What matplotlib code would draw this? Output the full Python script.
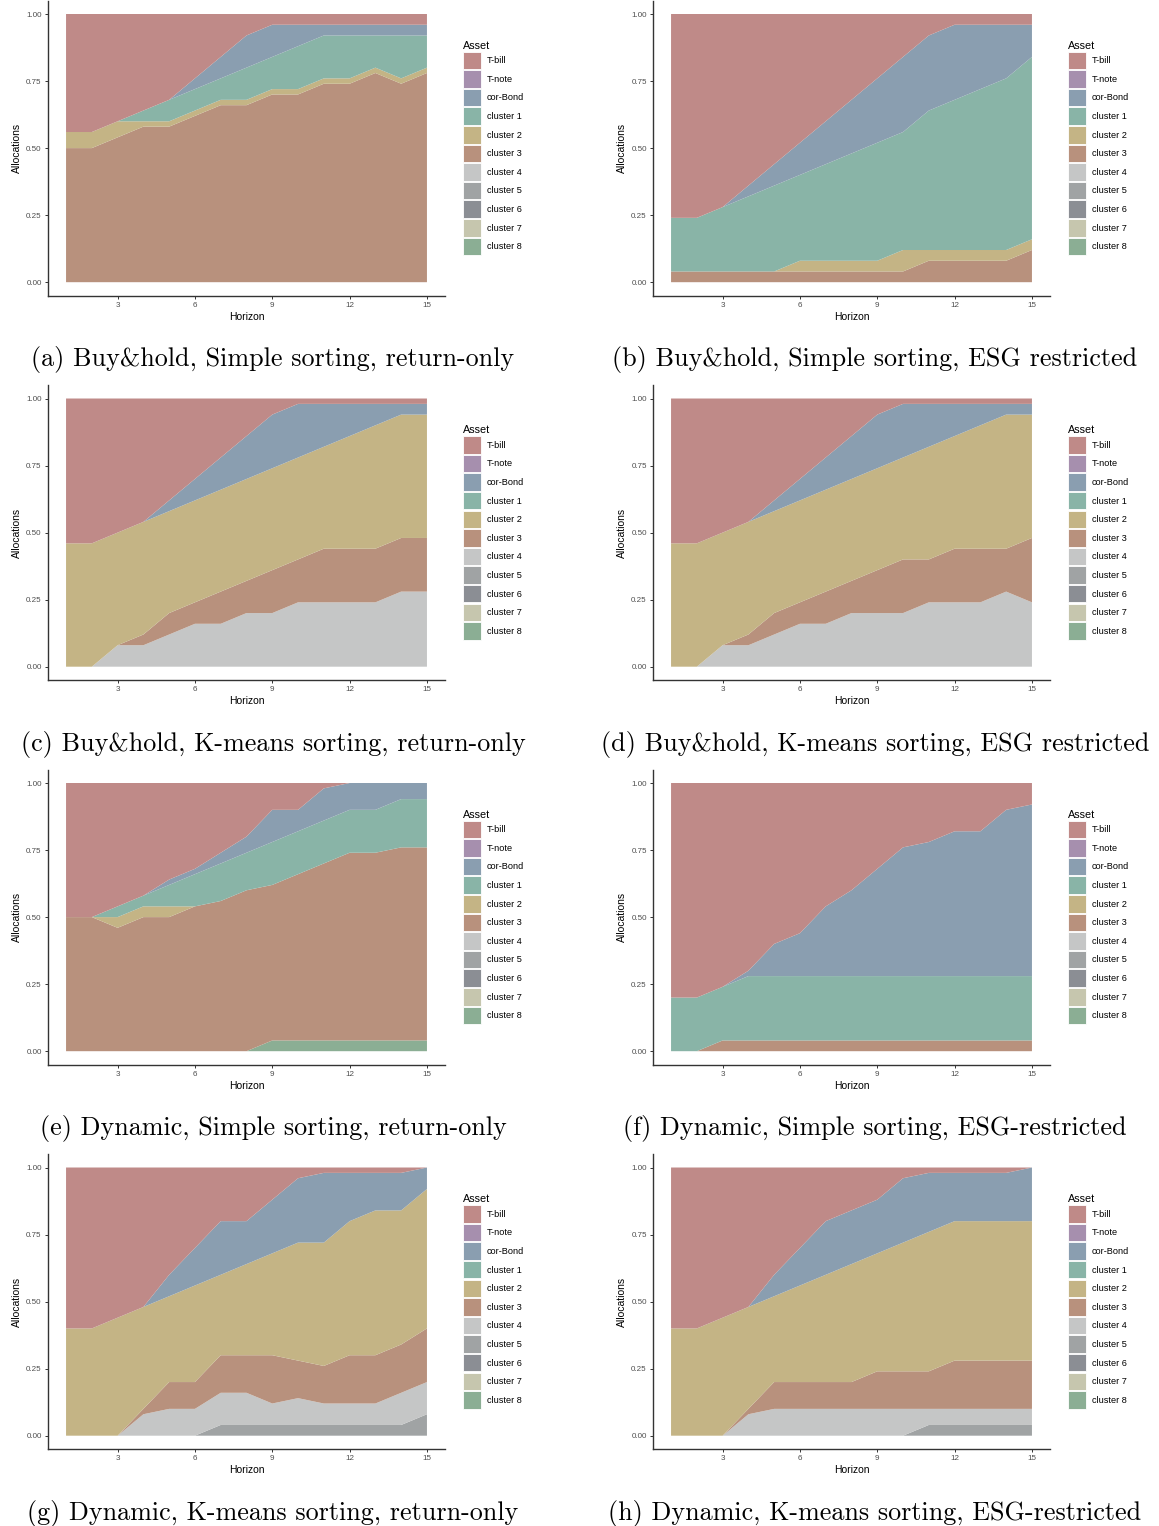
import matplotlib
matplotlib.use('Agg')
import matplotlib.pyplot as plt
from matplotlib.patches import Patch
import numpy as np

plt.rcParams['font.family'] = ['Liberation Sans', 'DejaVu Sans']

# horizon grid and assets (legend order, top of the stack first)
horizon = list(range(1, 16))
assets = ['T-bill', 'T-note', 'cor-Bond', 'cluster 1', 'cluster 2', 'cluster 3',
          'cluster 4', 'cluster 5', 'cluster 6', 'cluster 7', 'cluster 8']
asset_colors = ['#bf8a88', '#a68fae', '#8a9eb0', '#89b4a7', '#c4b485', '#b8917d',
                '#c5c6c6', '#a0a3a4', '#8b8e94', '#c6c6ae', '#8bae94']

# allocations per asset (assets not listed are zero)
buyhold_simple_ret = {
    'T-bill':    [0.44, 0.44, 0.40, 0.36, 0.32, 0.24, 0.16, 0.08, 0.04, 0.04, 0.04, 0.04, 0.04, 0.04, 0.04],
    'cor-Bond':  [0, 0, 0, 0, 0, 0.04, 0.08, 0.12, 0.12, 0.08, 0.04, 0.04, 0.04, 0.04, 0.04],
    'cluster 1': [0, 0, 0, 0.04, 0.08, 0.08, 0.08, 0.12, 0.12, 0.16, 0.16, 0.16, 0.12, 0.16, 0.12],
    'cluster 2': [0.06, 0.06, 0.06, 0.02, 0.02, 0.02, 0.02, 0.02, 0.02, 0.02, 0.02, 0.02, 0.02, 0.02, 0.02],
    'cluster 3': [0.50, 0.50, 0.54, 0.58, 0.58, 0.62, 0.66, 0.66, 0.70, 0.70, 0.74, 0.74, 0.78, 0.74, 0.78],
}
buyhold_simple_esg = {
    'T-bill':    [0.76, 0.76, 0.72, 0.64, 0.56, 0.48, 0.40, 0.32, 0.24, 0.16, 0.08, 0.04, 0.04, 0.04, 0.04],
    'cor-Bond':  [0, 0, 0, 0.04, 0.08, 0.12, 0.16, 0.20, 0.24, 0.28, 0.28, 0.28, 0.24, 0.20, 0.12],
    'cluster 1': [0.20, 0.20, 0.24, 0.28, 0.32, 0.32, 0.36, 0.40, 0.44, 0.44, 0.52, 0.56, 0.60, 0.64, 0.68],
    'cluster 2': [0, 0, 0, 0, 0, 0.04, 0.04, 0.04, 0.04, 0.08, 0.04, 0.04, 0.04, 0.04, 0.04],
    'cluster 3': [0.04, 0.04, 0.04, 0.04, 0.04, 0.04, 0.04, 0.04, 0.04, 0.04, 0.08, 0.08, 0.08, 0.08, 0.12],
}
buyhold_kmeans_ret = {
    'T-bill':    [0.54, 0.54, 0.50, 0.46, 0.38, 0.30, 0.22, 0.14, 0.06, 0.02, 0.02, 0.02, 0.02, 0.02, 0.02],
    'cor-Bond':  [0, 0, 0, 0, 0.04, 0.08, 0.12, 0.16, 0.20, 0.20, 0.16, 0.12, 0.08, 0.04, 0.04],
    'cluster 2': [0.46, 0.46, 0.42, 0.42, 0.38, 0.38, 0.38, 0.38, 0.38, 0.38, 0.38, 0.42, 0.46, 0.46, 0.46],
    'cluster 3': [0, 0, 0, 0.04, 0.08, 0.08, 0.12, 0.12, 0.16, 0.16, 0.20, 0.20, 0.20, 0.20, 0.20],
    'cluster 4': [0, 0, 0.08, 0.08, 0.12, 0.16, 0.16, 0.20, 0.20, 0.24, 0.24, 0.24, 0.24, 0.28, 0.28],
}
buyhold_kmeans_esg = {
    'T-bill':    [0.54, 0.54, 0.50, 0.46, 0.38, 0.30, 0.22, 0.14, 0.06, 0.02, 0.02, 0.02, 0.02, 0.02, 0.02],
    'cor-Bond':  [0, 0, 0, 0, 0.04, 0.08, 0.12, 0.16, 0.20, 0.20, 0.16, 0.12, 0.08, 0.04, 0.04],
    'cluster 2': [0.46, 0.46, 0.42, 0.42, 0.38, 0.38, 0.38, 0.38, 0.38, 0.38, 0.42, 0.42, 0.46, 0.50, 0.46],
    'cluster 3': [0, 0, 0, 0.04, 0.08, 0.08, 0.12, 0.12, 0.16, 0.20, 0.16, 0.20, 0.20, 0.16, 0.24],
    'cluster 4': [0, 0, 0.08, 0.08, 0.12, 0.16, 0.16, 0.20, 0.20, 0.20, 0.24, 0.24, 0.24, 0.28, 0.24],
}
dynamic_simple_ret = {
    'T-bill':    [0.50, 0.50, 0.46, 0.42, 0.36, 0.32, 0.26, 0.20, 0.10, 0.10, 0.02, 0, 0, 0, 0],
    'cor-Bond':  [0, 0, 0, 0, 0.02, 0.02, 0.04, 0.06, 0.12, 0.08, 0.12, 0.10, 0.10, 0.06, 0.06],
    'cluster 1': [0, 0, 0.04, 0.04, 0.08, 0.12, 0.14, 0.14, 0.16, 0.16, 0.16, 0.16, 0.16, 0.18, 0.18],
    'cluster 2': [0, 0, 0.04, 0.04, 0.04, 0, 0, 0, 0, 0, 0, 0, 0, 0, 0],
    'cluster 3': [0.50, 0.50, 0.46, 0.50, 0.50, 0.54, 0.56, 0.60, 0.58, 0.62, 0.66, 0.70, 0.70, 0.72, 0.72],
    'cluster 8': [0, 0, 0, 0, 0, 0, 0, 0, 0.04, 0.04, 0.04, 0.04, 0.04, 0.04, 0.04],
}
dynamic_simple_esg = {
    'T-bill':    [0.80, 0.80, 0.76, 0.70, 0.60, 0.56, 0.46, 0.40, 0.32, 0.24, 0.22, 0.18, 0.18, 0.10, 0.08],
    'cor-Bond':  [0, 0, 0, 0.02, 0.12, 0.16, 0.26, 0.32, 0.40, 0.48, 0.50, 0.54, 0.54, 0.62, 0.64],
    'cluster 1': [0.20, 0.20, 0.20, 0.24, 0.24, 0.24, 0.24, 0.24, 0.24, 0.24, 0.24, 0.24, 0.24, 0.24, 0.24],
    'cluster 3': [0, 0, 0.04, 0.04, 0.04, 0.04, 0.04, 0.04, 0.04, 0.04, 0.04, 0.04, 0.04, 0.04, 0.04],
}
dynamic_kmeans_ret = {
    'T-bill':    [0.60, 0.60, 0.56, 0.52, 0.40, 0.30, 0.20, 0.20, 0.12, 0.04, 0.02, 0.02, 0.02, 0.02, 0],
    'cor-Bond':  [0, 0, 0, 0, 0.08, 0.14, 0.20, 0.16, 0.20, 0.24, 0.26, 0.18, 0.14, 0.14, 0.08],
    'cluster 2': [0.40, 0.40, 0.44, 0.38, 0.32, 0.36, 0.30, 0.34, 0.38, 0.44, 0.46, 0.50, 0.54, 0.50, 0.52],
    'cluster 3': [0, 0, 0, 0.02, 0.10, 0.10, 0.14, 0.14, 0.18, 0.14, 0.14, 0.18, 0.18, 0.18, 0.20],
    'cluster 4': [0, 0, 0, 0.08, 0.10, 0.10, 0.12, 0.12, 0.08, 0.10, 0.08, 0.08, 0.08, 0.12, 0.12],
    'cluster 5': [0, 0, 0, 0, 0, 0, 0.04, 0.04, 0.04, 0.04, 0.04, 0.04, 0.04, 0.04, 0.08],
}
dynamic_kmeans_esg = {
    'T-bill':    [0.60, 0.60, 0.56, 0.52, 0.40, 0.30, 0.20, 0.16, 0.12, 0.04, 0.02, 0.02, 0.02, 0.02, 0],
    'cor-Bond':  [0, 0, 0, 0, 0.08, 0.14, 0.20, 0.20, 0.20, 0.24, 0.22, 0.18, 0.18, 0.18, 0.20],
    'cluster 2': [0.40, 0.40, 0.44, 0.38, 0.32, 0.36, 0.40, 0.44, 0.44, 0.48, 0.52, 0.52, 0.52, 0.52, 0.52],
    'cluster 3': [0, 0, 0, 0.02, 0.10, 0.10, 0.10, 0.10, 0.14, 0.14, 0.14, 0.18, 0.18, 0.18, 0.18],
    'cluster 4': [0, 0, 0, 0.08, 0.10, 0.10, 0.10, 0.10, 0.10, 0.10, 0.06, 0.06, 0.06, 0.06, 0.06],
    'cluster 5': [0, 0, 0, 0, 0, 0, 0, 0, 0, 0, 0.04, 0.04, 0.04, 0.04, 0.04],
}

panels = [buyhold_simple_ret, buyhold_simple_esg, buyhold_kmeans_ret, buyhold_kmeans_esg,
          dynamic_simple_ret, dynamic_simple_esg, dynamic_kmeans_ret, dynamic_kmeans_esg]
captions = ['(a) Buy&hold, Simple sorting, return-only',
            '(b) Buy&hold, Simple sorting, ESG restricted',
            '(c) Buy&hold, K-means sorting, return-only',
            '(d) Buy&hold, K-means sorting, ESG restricted',
            '(e) Dynamic, Simple sorting, return-only',
            '(f) Dynamic, Simple sorting, ESG-restricted',
            '(g) Dynamic, K-means sorting, return-only',
            '(h) Dynamic, K-means sorting, ESG-restricted']

W, H = 1159, 1526
fig = plt.figure(figsize=(W / 100, H / 100), dpi=100)

col_left = [48, 653]
col_center = [273, 875]
ax_w, ax_h = 397, 295
row_step = 384.5

for i, alloc in enumerate(panels):
    r, c = divmod(i, 2)
    top = 0.6 + r * row_step
    ax = fig.add_axes([col_left[c] / W, 1 - (top + ax_h) / H, ax_w / W, ax_h / H])

    # ggplot stacks the first factor level on top, so draw from cluster 8 upwards
    series = [np.array(alloc.get(a, [0] * len(horizon))) for a in assets[::-1]]
    ax.stackplot(horizon, series, colors=asset_colors[::-1], linewidth=0)

    ax.set_xlim(0.3, 15.7)
    ax.set_ylim(-0.05, 1.05)
    ax.set_xticks([3, 6, 9, 12, 15])
    ax.set_yticks([0, 0.25, 0.5, 0.75, 1.0])
    ax.set_yticklabels(['0.00', '0.25', '0.50', '0.75', '1.00'])
    ax.tick_params(labelsize=5.8, labelcolor='#4d4d4d', color='#333333', length=2.5, width=0.7, pad=2)
    for s in ['top', 'right']:
        ax.spines[s].set_visible(False)
    for s in ['left', 'bottom']:
        ax.spines[s].set_color('#333333')
        ax.spines[s].set_linewidth(1.0)
    ax.set_xlabel('Horizon', fontsize=7.5, labelpad=2)
    ax.set_ylabel('Allocations', fontsize=7.5, labelpad=3)

    handles = [Patch(facecolor=col, edgecolor='white', linewidth=0.6) for col in asset_colors]
    ax.legend(handles, assets, title='Asset', loc='upper left',
              bbox_to_anchor=((col_left[c] + 415) / W, 1 - (top + 40) / H),
              bbox_transform=fig.transFigure, frameon=False, fontsize=6.6,
              title_fontsize=7.8, handlelength=1.96, handleheight=2.56,
              labelspacing=0.12, handletextpad=0.65, borderpad=0, borderaxespad=0,
              alignment='left')

    fig.text(col_center[c] / W, 1 - (top + 359) / H, captions[i], fontsize=18.8,
             family='cmr10', ha='center', va='center')

plt.savefig('out.png', dpi=100)
